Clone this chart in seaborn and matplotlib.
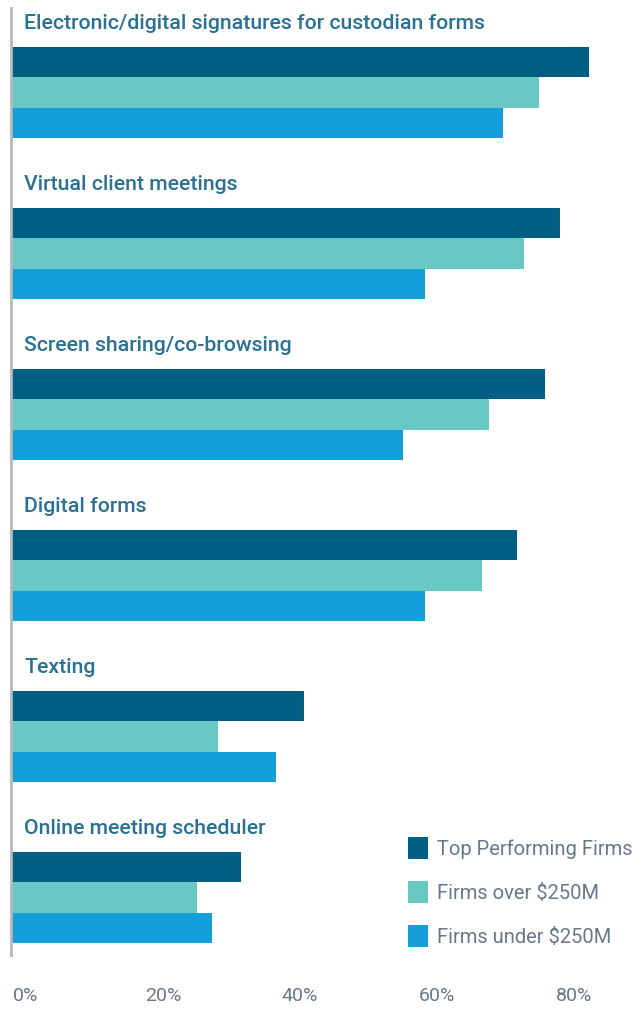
import pandas as pd
import numpy as np
import matplotlib.pyplot as plt
import matplotlib.transforms as mtransforms
from matplotlib.patches import Patch
import seaborn as sns

# Chart data (share of firms, %)
categories = [
    'Electronic/digital signatures for custodian forms',
    'Virtual client meetings',
    'Screen sharing/co-browsing',
    'Digital forms',
    'Texting',
    'Online meeting scheduler',
]
series = ['Top Performing Firms', 'Firms over $250M', 'Firms under $250M']
top_firms = [84.4, 80.1, 78.0, 73.9, 42.8, 33.6]
over_250m = [77.1, 74.9, 69.8, 68.8, 30.3, 27.2]
under_250m = [71.8, 60.4, 57.2, 60.4, 38.7, 29.3]
tick_values = [0, 20, 40, 60, 80]
tick_labels = ['0%', '20%', '40%', '60%', '80%']

colors = ['#025e82', '#68c8c4', '#149fda']
label_color = '#2a7193'
gray = '#66788a'

df = pd.DataFrame({
    'category': categories * 3,
    'series': [s for s in series for _ in categories],
    'value': top_firms + over_250m + under_250m,
})

sns.set_style('white')
plt.rcParams['font.family'] = ['Roboto', 'DejaVu Sans']

fig = plt.figure(figsize=(6.42, 10.09), dpi=100)
ax = fig.add_axes([11 / 642, 1 - 955 / 1009, 630 / 642, 947 / 1009])

sns.barplot(data=df, y='category', x='value', hue='series', order=categories,
            hue_order=series, palette=colors, orient='h', width=0.565,
            saturation=1, linewidth=0, ax=ax, legend=False)

ax.set_xlim(0, 92)
ax.set_ylim(5.357, -0.525)
ax.set_xlabel('')
ax.set_ylabel('')
ax.set_yticks([])
ax.set_xticks(tick_values)
ax.set_xticklabels(tick_labels, fontsize=14, color=gray)
ax.tick_params(axis='x', length=0, pad=23)
offset = mtransforms.ScaledTranslation(15 / 100, 0, fig.dpi_scale_trans)
for lbl in ax.get_xticklabels():
    lbl.set_transform(lbl.get_transform() + offset)

for s in ['top', 'right', 'bottom']:
    ax.spines[s].set_visible(False)
ax.spines['left'].set_color('#b4b9be')
ax.spines['left'].set_linewidth(2)

# group labels above each cluster of bars
for i, cat in enumerate(categories):
    ax.text(1.9, i - 0.43, cat, fontsize=15.3, fontweight='medium',
            color=label_color, va='center', ha='left')

handles = [Patch(facecolor=c, edgecolor='none') for c in colors]
leg = ax.legend(handles, series, loc='lower right', bbox_to_anchor=(1.0, 0.0),
                frameon=False, fontsize=14.5, labelcolor=gray,
                handlelength=1.0, handleheight=1.3, handletextpad=0.45,
                labelspacing=1.1, borderaxespad=0)

fig.savefig('out.png', dpi=100)
